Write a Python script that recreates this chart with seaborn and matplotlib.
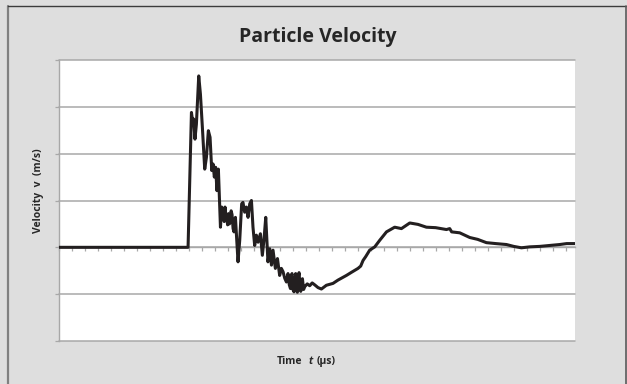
import matplotlib
matplotlib.use("Agg")
import numpy as np
import pandas as pd
import seaborn as sns
import matplotlib.pyplot as plt
from matplotlib.lines import Line2D

# ---- data (time in tick units, velocity in grid units) ----
time_us = [0.00, 9.92, 10.18, 10.28, 10.35, 10.45, 10.56, 10.74, 10.87, 11.02,
           11.20, 11.33, 11.48, 11.61, 11.74, 11.84, 11.94, 12.04, 12.14, 12.25,
           12.41, 12.51, 12.58, 12.64, 12.70, 12.76, 12.83, 12.89, 12.96, 13.02,
           13.10, 13.17, 13.23, 13.30, 13.38, 13.45, 13.56,
           13.76, 13.89, 14.04, 14.14, 14.27, 14.40, 14.53, 14.66, 14.79, 14.91,
           15.04, 15.17, 15.30, 15.48, 15.63, 15.76, 15.89, 16.06, 16.20, 16.33,
           16.45, 16.63, 16.79, 16.96, 17.09, 17.22, 17.35, 17.48, 17.60, 17.70,
           17.79, 17.85, 17.91, 17.98, 18.06, 18.12, 18.19, 18.25, 18.32, 18.38,
           18.45, 18.52, 18.58, 18.65, 18.71, 18.80, 18.89, 19.08, 19.27, 19.46,
           19.65, 19.91, 20.17, 20.55, 21.06, 21.44, 22.09, 22.50, 22.98, 23.19,
           23.37, 23.57, 23.88, 24.27, 24.65, 25.17, 25.80, 26.32, 26.96, 27.59,
           28.24, 28.95, 29.78, 30.03, 30.18, 30.80, 31.57, 32.18, 32.85, 33.57,
           34.39, 34.95, 35.54, 36.18, 36.95, 37.72, 38.49, 39.02, 39.64]
velocity = [0.00, 0.00, 2.88, 2.67, 2.74, 2.31, 2.63, 3.66, 3.27, 2.56,
            1.67, 1.92, 2.49, 2.35, 1.64, 1.78, 1.50, 1.71, 1.21, 1.67,
            0.43, 0.86, 0.62, 0.75, 0.55, 0.86, 0.58, 0.64, 0.48, 0.72,
            0.50, 0.54, 0.78, 0.70, 0.40, 0.33, 0.64,
            -0.31, 0.15, 0.93, 0.96, 0.75, 0.86, 0.64, 0.93, 1.00, 0.43,
            0.04, 0.26, 0.11, 0.29, -0.17, 0.18, 0.64, -0.31, -0.03, -0.38,
            -0.06, -0.45, -0.24, -0.60, -0.45, -0.52, -0.66, -0.74, -0.56, -0.80,
            -0.88, -0.62, -0.56, -0.90, -0.95, -0.70, -0.56, -0.85, -0.96, -0.66,
            -0.54, -0.80, -0.94, -0.72, -0.67, -0.90, -0.84, -0.78, -0.82, -0.76,
            -0.80, -0.86, -0.89, -0.81, -0.77, -0.70, -0.60, -0.53, -0.45, -0.40,
            -0.28, -0.20, -0.06, 0.01, 0.15, 0.33, 0.43, 0.40, 0.52, 0.49,
            0.43, 0.42, 0.38, 0.40, 0.33, 0.31, 0.21, 0.17, 0.10, 0.08,
            0.06, 0.02, -0.01, 0.01, 0.02, 0.04, 0.06, 0.08, 0.08]
y_grid = [-2, -1, 0, 1, 2, 3, 4]
x_ticks = list(range(0, 40))

TITLE = "Particle Velocity"
YLABEL = "Velocity  v  (m/s)"
XLABEL_PARTS = ["Time", "t", "(µs)"]

sns.set_theme(style="white")
plt.rcParams['font.family'] = ['Open Sans', 'DejaVu Sans']

W, H = 627, 384
fig = plt.figure(figsize=(W / 100, H / 100), dpi=100, facecolor='#dedede')
ax = fig.add_axes([59 / W, 1 - 341 / H, 516 / W, 281 / H])
ax.set_facecolor('white')

df = pd.DataFrame({'t': time_us, 'v': velocity})
sns.lineplot(data=df, x='t', y='v', ax=ax, color='#231f20', linewidth=2.2,
             sort=False, estimator=None, zorder=4)

ax.set_xlim(0, 39.66)
ax.set_ylim(-2, 4)
ax.set_yticks(y_grid)
ax.set_yticklabels([])
ax.set_xticks(x_ticks)
ax.set_xticklabels([])
ax.set_xlabel("")
ax.set_ylabel("")
gcol = '#a8a8a8'
ax.grid(axis='y', color=gcol, linewidth=1.1)
ax.grid(axis='x', visible=False)
for s in ['top', 'right']:
    ax.spines[s].set_visible(False)
ax.spines['bottom'].set_position(('data', 0))
ax.spines['bottom'].set_color(gcol)
ax.spines['bottom'].set_linewidth(1.0)
ax.spines['left'].set_color(gcol)
ax.spines['left'].set_linewidth(1.0)
ax.tick_params(axis='x', direction='out', length=3, width=0.9, color=gcol, bottom=True)
ax.tick_params(axis='y', direction='out', length=3, width=0.9, color=gcol, left=True)
for gl in ax.get_ygridlines():
    gl.set_clip_on(False)

# texts
tc = '#262626'
fig.text(318 / W, 1 - 41.7 / H, TITLE, ha='center', va='baseline',
         fontsize=14, fontweight='bold', color=tc)
fig.text(38.3 / W, 1 - 191 / H, YLABEL, ha='center', va='center', rotation=90,
         fontsize=7.5, fontweight='bold', color=tc)
yb = 1 - 361.5 / H
fig.text(302.5 / W, yb, XLABEL_PARTS[0], ha='right', va='center', fontsize=7.5,
         fontweight='bold', color=tc)
fig.text(310.5 / W, yb, XLABEL_PARTS[1], ha='center', va='center', fontsize=7.5,
         fontweight='bold', fontstyle='italic', color=tc)
fig.text(317 / W, yb, XLABEL_PARTS[2], ha='left', va='center', fontsize=7.5,
         fontweight='bold', color=tc)

# outer frame
fig.add_artist(Line2D([8 / W, 8 / W], [0, 1 - 5.5 / H], color='#808080', linewidth=1.6))
fig.add_artist(Line2D([8 / W, 625.5 / W], [1 - 5.5 / H, 1 - 5.5 / H], color='#3c3c3c', linewidth=1.0))
fig.add_artist(Line2D([625.5 / W, 625.5 / W], [0, 1 - 5.5 / H], color='#5a5a5a', linewidth=1.2))

fig.savefig('out.png', dpi=100, facecolor=fig.get_facecolor())
